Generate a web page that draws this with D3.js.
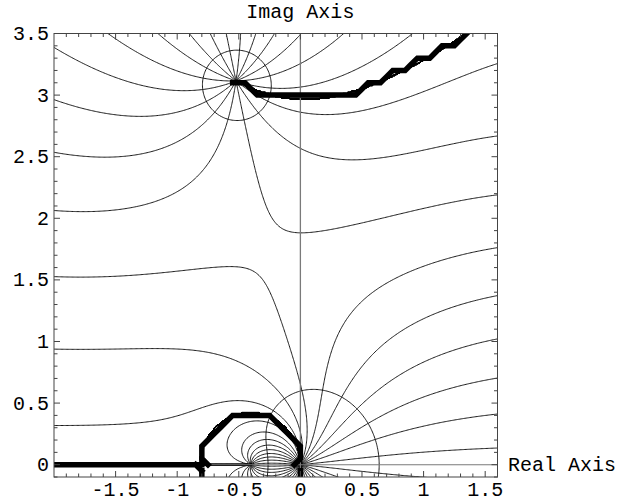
<!DOCTYPE html>
<html><head><meta charset="utf-8">
<script src="https://cdn.jsdelivr.net/npm/d3@7"></script>
<style>
body{margin:0;background:#fff}
svg{display:block}
text{font-family:"Liberation Mono","DejaVu Sans Mono",monospace;fill:#000}
</style>
</head><body>
<svg id="chart" width="634" height="502"></svg>
<script>
// ---- data ----
// G(s) = gain (s - z) (1 - s/rhpZero) e^{-delay s} / ( prod(s - p) * prod(1 - s/q) )
const zeros = [[-0.4, 0]];
const rhpZero = 6.821;
const poles = [[0, 0], [0, 0], [-0.5226, 3.115], [-0.5226, -3.115]];
const farPoles = [[3.056, 4.367], [3.056, -4.367]];
const delay = 0.1892;
const gain = 4.75;
const phaseLevels = [-170,-150,-130,-110,-90,-70,-50,-30,-10,10,30,50,70,90,110,130,150,170]; // degrees
const magnitudeLevels = [1];
const locusRealAxis = [[-2, -0.8]];
const xTicks = [-1.5, -1, -0.5, 0, 0.5, 1, 1.5];
const yTicks = [0, 0.5, 1, 1.5, 2, 2.5, 3, 3.5];
const xRange = [-2, 1.6];
const yRange = [-0.1, 3.5];
const xAxisLabel = "Real Axis";
const yAxisLabel = "Imag Axis";

// ---- complex helpers ----
const cmul = (a, b) => [a[0]*b[0] - a[1]*b[1], a[0]*b[1] + a[1]*b[0]];
const cdiv = (a, b) => { const d = b[0]*b[0] + b[1]*b[1]; return [(a[0]*b[0] + a[1]*b[1])/d, (a[1]*b[0] - a[0]*b[1])/d]; };
const cexp = a => { const e = Math.exp(a[0]); return [e*Math.cos(a[1]), e*Math.sin(a[1])]; };
function G(x, y) {
  let num = [gain, 0];
  for (const [zx, zy] of zeros) num = cmul(num, [x - zx, y - zy]);
  num = cmul(num, [1 - x/rhpZero, -y/rhpZero]);
  num = cmul(num, cexp([-delay*x, -delay*y]));
  let den = [1, 0];
  for (const [px, py] of poles) den = cmul(den, [x - px, y - py]);
  for (const q of farPoles) den = cmul(den, cdiv([q[0] - x, q[1] - y], q));
  return cdiv(num, den);
}

const svg = d3.select("#chart");
const sx = d3.scaleLinear().domain(xRange).range([54, 497.5]);
const sy = d3.scaleLinear().domain(yRange).range([477, 33.5]);

svg.append("defs").append("clipPath").attr("id", "plotclip").append("rect")
  .attr("x", sx(xRange[0])).attr("y", sy(yRange[1]))
  .attr("width", sx(xRange[1]) - sx(xRange[0])).attr("height", sy(yRange[0]) - sy(yRange[1]));
const plot = svg.append("g").attr("clip-path", "url(#plotclip)");

function gridPath(x0, y0, step) {
  return d3.geoPath(d3.geoTransform({ point(x, y) { this.stream.point(sx(x0 + x*step), sy(y0 + y*step)); } }));
}

// ---- fine grid: phase & magnitude contours ----
const margin = 0.3, fStep = 0.01;
const fx0 = xRange[0] - margin, fy0 = yRange[0] - margin;
const fnx = Math.round((xRange[1] - xRange[0] + 2*margin)/fStep);
const fny = Math.round((yRange[1] - yRange[0] + 2*margin)/fStep);
const phase = new Float64Array(fnx*fny), logMag = new Float64Array(fnx*fny);
for (let j = 0; j < fny; j++) {
  const y = fy0 + (j + 0.5)*fStep;
  for (let i = 0; i < fnx; i++) {
    const x = fx0 + (i + 0.5)*fStep;
    const [re, im] = G(x, y);
    phase[j*fnx + i] = Math.atan2(im, re)*180/Math.PI;
    logMag[j*fnx + i] = 0.5*Math.log(re*re + im*im);
  }
}
const fPath = gridPath(fx0, fy0, fStep);
const phaseContours = d3.contours().size([fnx, fny]).thresholds(phaseLevels)(phase);
plot.append("g").selectAll("path").data(phaseContours).join("path")
  .attr("d", fPath).attr("fill", "none").attr("stroke", "#000").attr("stroke-width", 0.9)
  .attr("stroke-linejoin", "round");
const magContours = d3.contours().size([fnx, fny]).thresholds(magnitudeLevels.map(Math.log))(logMag);
plot.append("g").selectAll("path").data(magContours).join("path")
  .attr("d", fPath).attr("fill", "none").attr("stroke", "#000").attr("stroke-width", 0.9);

// ---- axes through origin ----
plot.append("line").attr("x1", sx(0)).attr("x2", sx(0)).attr("y1", sy(yRange[0])).attr("y2", sy(yRange[1]))
  .attr("stroke", "#7a7a7a").attr("stroke-width", 1.3);
plot.append("line").attr("x1", sx(xRange[0])).attr("x2", sx(xRange[1])).attr("y1", sy(0)).attr("y2", sy(0))
  .attr("stroke", "#7a7a7a").attr("stroke-width", 1.1);

// ---- root locus (thick), coarse grid like the original ----
const cStep = 0.1;
const cx0 = xRange[0] - 0.3, cy0 = -0.3;
const cnx = Math.round((xRange[1] + 0.3 - cx0)/cStep);
const cny = Math.round((yRange[1] + 0.3 - cy0)/cStep);
const sinPh = new Float64Array(cnx*cny);
for (let j = 0; j < cny; j++) {
  const y = cy0 + (j + 0.5)*cStep;
  for (let i = 0; i < cnx; i++) {
    const x = cx0 + (i + 0.5)*cStep;
    const [re, im] = G(x, y);
    sinPh[j*cnx + i] = im/Math.hypot(re, im);
  }
}
const locusC = d3.contours().size([cnx, cny]).smooth(false).thresholds([0])(sinPh)[0];
let locusD = "";
for (const poly of locusC.coordinates) for (const ring of poly) {
  let open = false;
  for (let k = 0; k < ring.length - 1; k++) {
    const ax = cx0 + ring[k][0]*cStep, ay = cy0 + ring[k][1]*cStep;
    const bx = cx0 + ring[k+1][0]*cStep, by = cy0 + ring[k+1][1]*cStep;
    let keep = !(Math.abs(ay) < 1e-6 && Math.abs(by) < 1e-6);
    if (keep) { const [re] = G((ax+bx)/2, (ay+by)/2); keep = re < 0; }
    if (keep) {
      if (!open) locusD += `M${sx(ax)},${sy(ay)}`;
      locusD += `L${sx(bx)},${sy(by)}`;
      open = true;
    } else open = false;
  }
}
for (const [a, b] of locusRealAxis) locusD += `M${sx(a - 0.05)},${sy(0)}L${sx(b)},${sy(0)}`;
plot.append("path").attr("d", locusD).attr("fill", "none").attr("stroke", "#000")
  .attr("stroke-width", 5.5).attr("stroke-linejoin", "miter").attr("stroke-linecap", "square");

// ---- frame and ticks ----
const fr = svg.append("g").attr("stroke", "#444").attr("stroke-width", 1).attr("fill", "none");
fr.append("rect").attr("x", sx(xRange[0])).attr("y", sy(yRange[1]))
  .attr("width", sx(xRange[1]) - sx(xRange[0])).attr("height", sy(yRange[0]) - sy(yRange[1]));
const xMinor = d3.range(-19, 17).map(d => d/10);
const yMinor = d3.range(-1, 36).map(d => d/10);
const isMajor = (v, arr) => arr.some(t => Math.abs(t - v) < 1e-9);
for (const v of xMinor) {
  const L = isMajor(v, xTicks) ? 6 : 3.5;
  fr.append("line").attr("x1", sx(v)).attr("x2", sx(v)).attr("y1", sy(yRange[0])).attr("y2", sy(yRange[0]) - L);
  fr.append("line").attr("x1", sx(v)).attr("x2", sx(v)).attr("y1", sy(yRange[1])).attr("y2", sy(yRange[1]) + L);
}
for (const v of yMinor) {
  const L = isMajor(v, yTicks) ? 6 : 3.5;
  fr.append("line").attr("y1", sy(v)).attr("y2", sy(v)).attr("x1", sx(xRange[0])).attr("x2", sx(xRange[0]) + L);
  fr.append("line").attr("y1", sy(v)).attr("y2", sy(v)).attr("x1", sx(xRange[1])).attr("x2", sx(xRange[1]) - L);
}
const fmt = v => String(v);
svg.append("g").selectAll("text").data(xTicks).join("text")
  .attr("x", d => sx(d)).attr("y", 496).attr("text-anchor", "middle").attr("font-size", 20).text(fmt);
svg.append("g").selectAll("text").data(yTicks).join("text")
  .attr("x", 49).attr("y", d => sy(d) + 6.5).attr("text-anchor", "end").attr("font-size", 20).text(fmt);
svg.append("text").attr("x", sx(0)).attr("y", 18).attr("text-anchor", "middle").attr("font-size", 20).text(yAxisLabel);
svg.append("text").attr("x", 508).attr("y", sy(0) + 6.5).attr("text-anchor", "start").attr("font-size", 20).text(xAxisLabel);
</script>
</body></html>
